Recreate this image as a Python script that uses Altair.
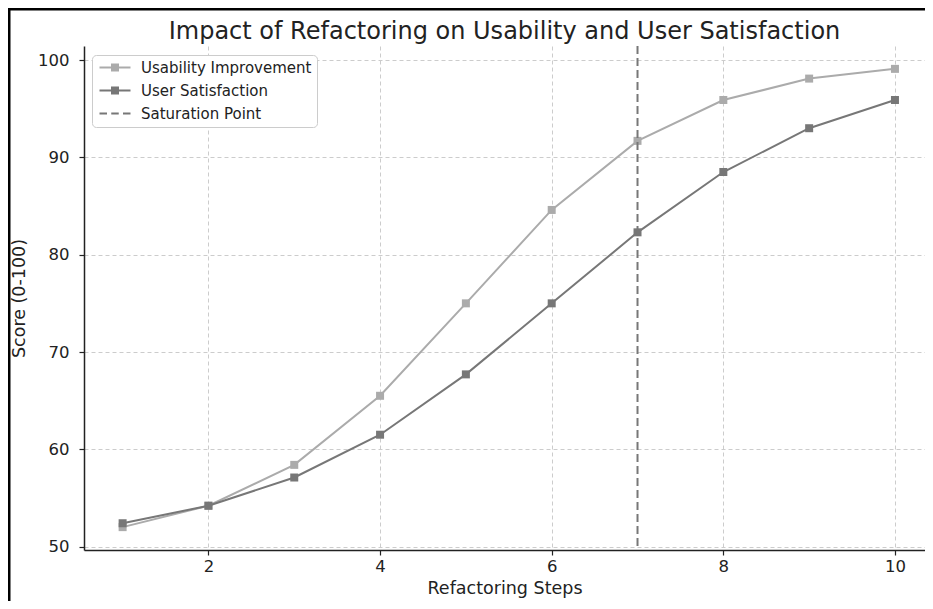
import altair as alt
import pandas as pd

# ---- data ----
steps = [1, 2, 3, 4, 5, 6, 7, 8, 9, 10]
usability = [52.0, 54.2, 58.4, 65.5, 75.0, 84.6, 91.7, 95.9, 98.1, 99.1]
satisfaction = [52.4, 54.2, 57.1, 61.5, 67.7, 75.0, 82.3, 88.5, 93.0, 95.9]
saturation_step = [7]
series_names = ["Usability Improvement", "User Satisfaction", "Saturation Point"]
series_colors = ["#ababab", "#777777", "#777777"]
x_ticks = [2, 4, 6, 8, 10]
y_ticks = [50, 60, 70, 80, 90, 100]

use_df = pd.DataFrame({"step": steps, "score": usability})
sat_score_df = pd.DataFrame({"step": steps, "score": satisfaction})
sat_df = pd.DataFrame({"step": saturation_step})
legend_df = pd.DataFrame({"series": series_names})

W = 841
H = 504
FONT = "DejaVu Sans"

# legend symbols (units of 5px: symbolSize 100 -> radius 5)
line_sq = ("M-1,-0.2 L5.2,-0.2 L5.2,0.2 L-1,0.2 Z "
           "M1.3,-0.8 L2.9,-0.8 L2.9,0.8 L1.3,0.8 Z")
dashed = ("M-1,-0.18 L0.5,-0.18 L0.5,0.18 L-1,0.18 Z "
          "M1.35,-0.18 L2.85,-0.18 L2.85,0.18 L1.35,0.18 Z "
          "M3.7,-0.18 L5.2,-0.18 L5.2,0.18 L3.7,0.18 Z")

xscale = alt.Scale(domain=[0.55, 10.35], nice=False, zero=False)
yscale = alt.Scale(domain=[49.65, 101.45], nice=False, zero=False)
cscale = alt.Scale(domain=series_names, range=series_colors)

x_enc = alt.X("step:Q", scale=xscale,
              axis=alt.Axis(values=x_ticks, title="Refactoring Steps", format="d"))
y_enc = alt.Y("score:Q", scale=yscale,
              axis=alt.Axis(values=y_ticks, title="Score (0-100)", format="d"))


def series_layers(data, color):
    line = alt.Chart(data).mark_line(strokeWidth=2, color=color).encode(x=x_enc, y=y_enc)
    pts = alt.Chart(data).mark_square(size=64, opacity=1, filled=True, color=color).encode(
        x=x_enc, y=y_enc)
    return [line, pts]


rule = alt.Chart(sat_df).mark_rule(strokeWidth=2, strokeDash=[8, 4], color=series_colors[2]).encode(
    x=alt.X("step:Q", scale=xscale),
)

leg = alt.Legend(
    title=None, orient="none", legendX=8, legendY=9,
    fillColor="white", strokeColor="#cccccc", cornerRadius=4,
    padding=5, labelFontSize=15, labelFont=FONT, labelColor="#222222",
    labelOffset=29, labelLimit=400, rowPadding=7, symbolSize=100, symbolStrokeWidth=0,
)

legend_layer = alt.Chart(legend_df).transform_filter("false").mark_point(
    filled=True, opacity=1
).encode(
    color=alt.Color("series:N", scale=cscale, legend=leg),
    shape=alt.Shape(
        "series:N",
        scale=alt.Scale(domain=series_names, range=[line_sq, line_sq, dashed]),
        legend=leg,
    ),
)

frame = alt.Chart(pd.DataFrame({"k": [0]})).mark_rect(
    filled=False, stroke="black", strokeWidth=3, fillOpacity=0
).encode(
    x=alt.value(-75), x2=alt.value(W + 40),
    y=alt.value(-37), y2=alt.value(H + 90),
)

layers = [frame] + series_layers(use_df, series_colors[0]) + \
    series_layers(sat_score_df, series_colors[1]) + [rule, legend_layer]

chart = alt.layer(*layers).properties(
    width=W, height=H,
    title=alt.TitleParams(
        "Impact of Refactoring on Usability and User Satisfaction",
        fontSize=24, font=FONT, fontWeight="normal", color="#222222",
        anchor="middle", offset=-36,
    ),
    autosize=alt.AutoSizeParams(type="none"),
    padding={"left": 76, "top": 38, "right": 0, "bottom": 51},
).configure_view(stroke=None).configure_axis(
    labelFont=FONT, titleFont=FONT, labelFontSize=16.5, titleFontSize=17.5,
    titleFontWeight="normal", labelColor="#222222", titleColor="#222222",
    domainColor="#222222", domainWidth=1.5, tickColor="#222222", tickSize=5,
    tickWidth=1.2, grid=True, gridColor="#cccccc", gridDash=[4, 3], gridWidth=1,
).configure_axisX(titlePadding=5, labelPadding=3).configure_axisY(titlePadding=9, labelPadding=10)

chart.save("out.html", embed_options={"renderer": "svg", "actions": False})
